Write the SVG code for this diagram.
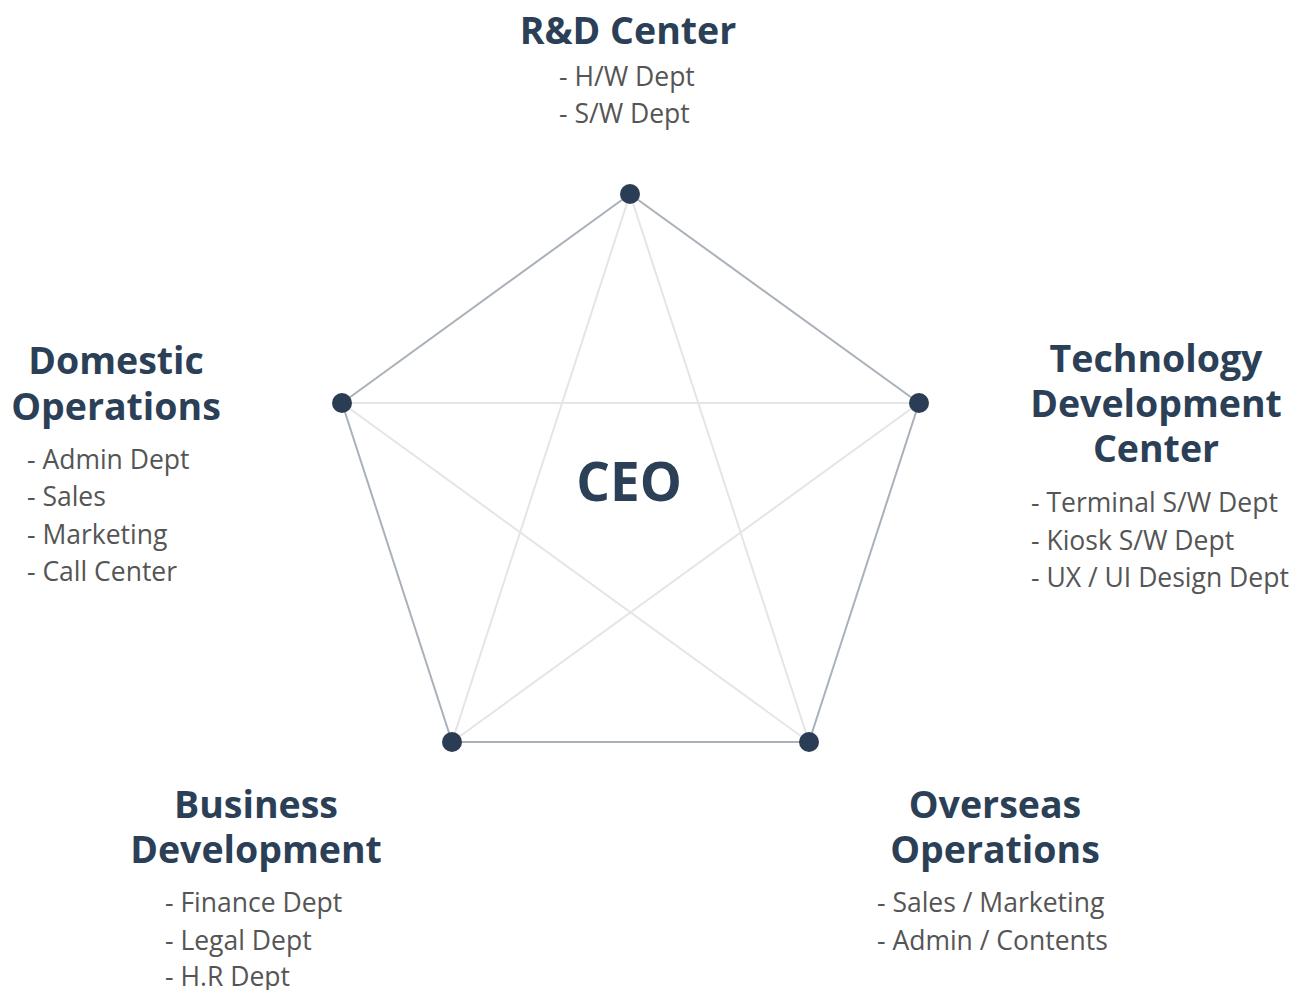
<svg xmlns="http://www.w3.org/2000/svg" width="1295" height="990" viewBox="0 0 1295 990">
<style>
.edge{stroke:#a9b1ba;stroke-width:2;fill:none}
.star{stroke:#e5e5e5;stroke-width:2;fill:none}
.dot{fill:#2b3d54}
.title{font-family:"Open Sans","Liberation Sans",sans-serif;font-weight:bold;font-size:37.5px;fill:#2b3f57;text-anchor:middle}
.item{font-family:"Open Sans","Liberation Sans",sans-serif;font-size:26.5px;fill:#555555}
.ceo{font-family:"Open Sans","Liberation Sans",sans-serif;font-weight:bold;font-size:53px;fill:#2b3f57;text-anchor:middle}
</style>
<rect width="1295" height="990" fill="#ffffff"/>
<g id="connectors">
<line class="star" x1="630" y1="194" x2="452" y2="742"/>
<line class="star" x1="630" y1="194" x2="809" y2="742"/>
<line class="star" x1="342" y1="403" x2="919" y2="403"/>
<line class="star" x1="342" y1="403" x2="809" y2="742"/>
<line class="star" x1="919" y1="403" x2="452" y2="742"/>
<line class="edge" x1="630" y1="194" x2="919" y2="403"/>
<line class="edge" x1="919" y1="403" x2="809" y2="742"/>
<line class="edge" x1="809" y1="742" x2="452" y2="742"/>
<line class="edge" x1="452" y1="742" x2="342" y2="403"/>
<line class="edge" x1="342" y1="403" x2="630" y2="194"/>
</g>
<g id="ceo"><text class="ceo" x="629" y="501">CEO</text></g>
<g id="rd">
<circle class="dot" cx="630" cy="194" r="10"/>
<text class="title" x="628" y="44">R&amp;D Center</text>
<text class="item" x="559" y="86">- H/W Dept</text>
<text class="item" x="559" y="123">- S/W Dept</text>
</g>
<g id="tech">
<circle class="dot" cx="919" cy="403" r="10"/>
<text class="title" x="1156" y="372">Technology</text>
<text class="title" x="1156" y="417">Development</text>
<text class="title" x="1156" y="462">Center</text>
<text class="item" x="1031" y="512">- Terminal S/W Dept</text>
<text class="item" x="1031" y="550">- Kiosk S/W Dept</text>
<text class="item" x="1031" y="587">- UX / UI Design Dept</text>
</g>
<g id="overseas">
<circle class="dot" cx="809" cy="742" r="10"/>
<text class="title" x="995" y="818">Overseas</text>
<text class="title" x="995" y="863">Operations</text>
<text class="item" x="877" y="912">- Sales / Marketing</text>
<text class="item" x="877" y="950">- Admin / Contents</text>
</g>
<g id="business">
<circle class="dot" cx="452" cy="742" r="10"/>
<text class="title" x="256" y="818">Business</text>
<text class="title" x="256" y="863">Development</text>
<text class="item" x="165" y="912">- Finance Dept</text>
<text class="item" x="165" y="950">- Legal Dept</text>
<text class="item" x="165" y="986">- H.R Dept</text>
</g>
<g id="domestic">
<circle class="dot" cx="342" cy="403" r="10"/>
<text class="title" x="116" y="374">Domestic</text>
<text class="title" x="116" y="420">Operations</text>
<text class="item" x="27" y="469">- Admin Dept</text>
<text class="item" x="27" y="506">- Sales</text>
<text class="item" x="27" y="544">- Marketing</text>
<text class="item" x="27" y="581">- Call Center</text>
</g>
</svg>
